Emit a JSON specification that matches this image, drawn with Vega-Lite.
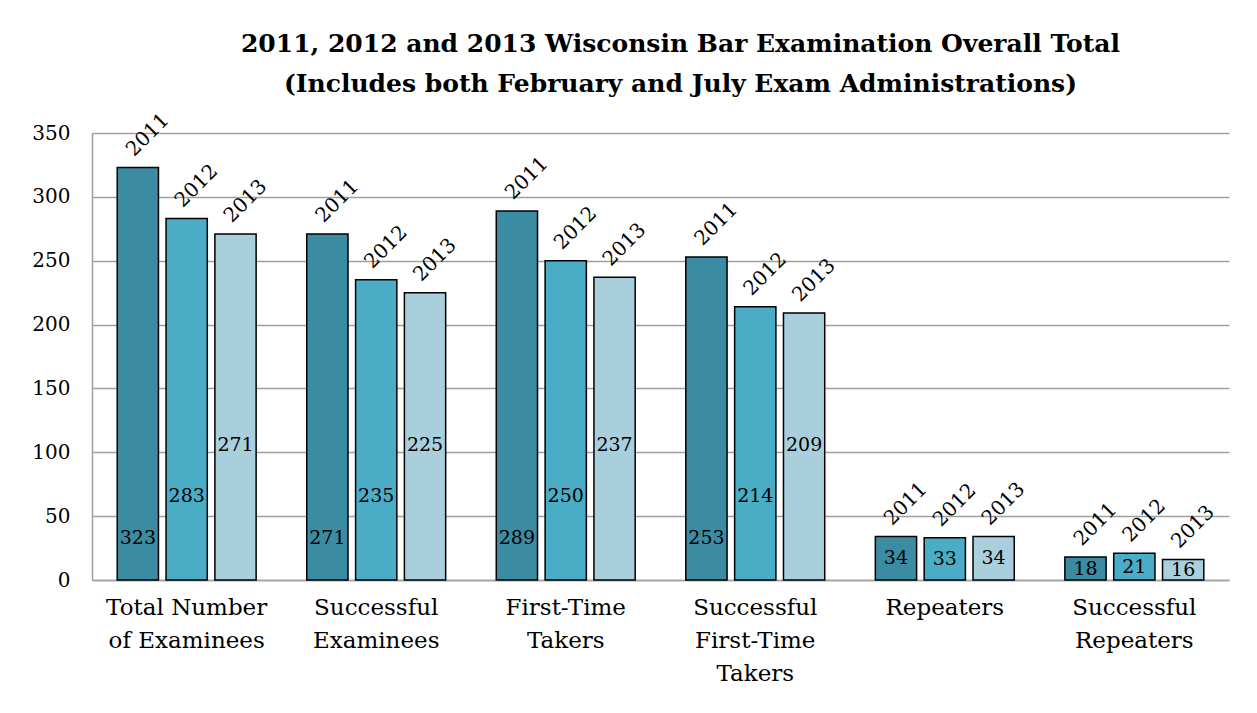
{
  "$schema": "https://vega.github.io/schema/vega-lite/v6.json",
  "width": 1137,
  "height": 447,
  "autosize": "none",
  "padding": {"left": 92, "top": 133, "right": 28, "bottom": 133},
  "background": "white",
  "title": {
    "text": ["2011, 2012 and 2013 Wisconsin Bar Examination Overall Total", "(Includes  both February and July Exam Administrations)"],
    "font": "DejaVu Serif",
    "fontSize": 25,
    "fontWeight": "bold",
    "color": "black",
    "anchor": "middle",
    "lineHeight": 40,
    "offset": 13,
    "dx": 20
  },
  "data": {
    "values": [
      {"Category": "Total Number|of Examinees", "Year": "2011", "Count": 323},
      {"Category": "Total Number|of Examinees", "Year": "2012", "Count": 283},
      {"Category": "Total Number|of Examinees", "Year": "2013", "Count": 271},
      {"Category": "Successful|Examinees", "Year": "2011", "Count": 271},
      {"Category": "Successful|Examinees", "Year": "2012", "Count": 235},
      {"Category": "Successful|Examinees", "Year": "2013", "Count": 225},
      {"Category": "First-Time|Takers", "Year": "2011", "Count": 289},
      {"Category": "First-Time|Takers", "Year": "2012", "Count": 250},
      {"Category": "First-Time|Takers", "Year": "2013", "Count": 237},
      {"Category": "Successful|First-Time|Takers", "Year": "2011", "Count": 253},
      {"Category": "Successful|First-Time|Takers", "Year": "2012", "Count": 214},
      {"Category": "Successful|First-Time|Takers", "Year": "2013", "Count": 209},
      {"Category": "Repeaters", "Year": "2011", "Count": 34},
      {"Category": "Repeaters", "Year": "2012", "Count": 33},
      {"Category": "Repeaters", "Year": "2013", "Count": 34},
      {"Category": "Successful|Repeaters", "Year": "2011", "Count": 18},
      {"Category": "Successful|Repeaters", "Year": "2012", "Count": 21},
      {"Category": "Successful|Repeaters", "Year": "2013", "Count": 16}
    ]
  },
  "transform": [
    {"calculate": "datum.Count < 60 ? datum.Count / 2 : (datum.Year == '2011' ? 33 : (datum.Year == '2012' ? 66 : 106))", "as": "labelPos"}
  ],
  "encoding": {
    "x": {
      "field": "Category",
      "type": "nominal",
      "sort": null,
      "scale": {"paddingInner": 0.267, "paddingOuter": 0.133},
      "axis": {
        "title": null,
        "labelAngle": 0,
        "labelExpr": "split(datum.label, '|')",
        "labelFont": "DejaVu Serif",
        "labelFontSize": 23,
        "labelColor": "black",
        "labelLineHeight": 33,
        "labelPadding": 16,
        "labelBaseline": "top",
        "ticks": false,
        "domainColor": "#a0a0a0",
        "domainWidth": 1.5,
        "labelLimit": 300
      }
    },
    "xOffset": {
      "field": "Year",
      "type": "nominal",
      "scale": {"paddingInner": 0.155, "paddingOuter": 0}
    }
  },
  "layer": [
    {
      "mark": {"type": "bar", "stroke": "black", "strokeWidth": 1.5},
      "encoding": {
        "y": {
          "field": "Count",
          "type": "quantitative",
          "scale": {"domain": [0, 350]},
          "axis": {
            "title": null,
            "values": [0, 50, 100, 150, 200, 250, 300, 350],
            "labelFont": "DejaVu Serif",
            "labelFontSize": 20,
            "labelColor": "black",
            "labelPadding": 22,
            "ticks": false,
            "domainColor": "#a0a0a0",
            "domainWidth": 1.5,
            "gridColor": "#a0a0a0",
            "gridWidth": 1.5
          }
        },
        "color": {
          "field": "Year",
          "type": "nominal",
          "scale": {"domain": ["2011", "2012", "2013"], "range": ["#3B8BA3", "#4BACC6", "#A9CFDD"]},
          "legend": null
        }
      }
    },
    {
      "mark": {"type": "text", "font": "DejaVu Serif", "fontSize": 20, "color": "black", "angle": 315, "align": "center", "baseline": "middle", "dx": 30, "dy": -16},
      "encoding": {
        "y": {"field": "Count", "type": "quantitative"},
        "text": {"field": "Year"}
      }
    },
    {
      "mark": {"type": "text", "font": "DejaVu Serif", "fontSize": 19, "color": "black", "align": "center", "baseline": "middle"},
      "encoding": {
        "y": {"field": "labelPos", "type": "quantitative"},
        "text": {"field": "Count"}
      }
    }
  ],
  "config": {
    "view": {"stroke": null}
  }
}
